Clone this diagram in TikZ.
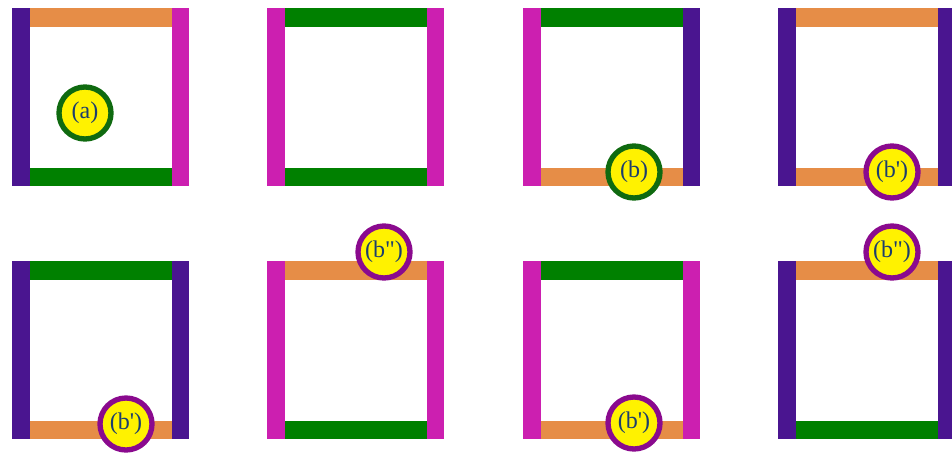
\documentclass[tikz,border=0pt]{standalone}
\usepackage{fontspec}
\setmainfont{Liberation Serif}

\definecolor{barpurple}{HTML}{4A1590}
\definecolor{barmagenta}{HTML}{CC1FB0}
\definecolor{barorange}{HTML}{E68D47}
\definecolor{bargreen}{HTML}{008000}
\definecolor{ringgreen}{HTML}{0F6A10}
\definecolor{ringpurple}{HTML}{8A0A8E}
\definecolor{tagblue}{HTML}{1B3D6E}

\tikzset{
  tag/.style={circle, fill=yellow, draw=#1, line width=4pt, minimum size=39pt,
              inner sep=0pt, text=tagblue, font=\fontsize{18}{18}\selectfont},
}

\begin{document}
\begin{tikzpicture}[x=0.75pt, y=-0.75pt]
    \useasboundingbox (0,0) rectangle (952,453);
    \clip (0,0) rectangle (952,453);

    % Frames: left x, top y, then colours of left, top, right, bottom bars
    \foreach \x/\y/\l/\t/\r/\b in {
        12/8/barpurple/barorange/barmagenta/bargreen,
        267/8/barmagenta/bargreen/barmagenta/bargreen,
        523/8/barmagenta/bargreen/barpurple/barorange,
        778/8/barpurple/barorange/barpurple/barorange,
        12/261/barpurple/bargreen/barpurple/barorange,
        267/261/barmagenta/barorange/barmagenta/bargreen,
        523/261/barmagenta/bargreen/barmagenta/barorange,
        778/261/barpurple/barorange/barpurple/bargreen} {
        \fill[\t] (\x+17.5,\y) rectangle ++(142,19);
        \fill[\b] (\x+17.5,\y+159.5) rectangle ++(142,18.5);
        \fill[\l] (\x,\y) rectangle ++(17.5,178);
        \fill[\r] (\x+159.5,\y) rectangle ++(17.5,178);
    }

    % Labels
    \node[tag=ringgreen] (tagA) at (85,113) {(a)};
    \node[tag=ringgreen] (tagB) at (634,172) {(b)};
    \node[tag=ringpurple] (tagBpA) at (892,172) {(b\textquotesingle)};
    \node[tag=ringpurple] (tagBpB) at (126,424) {(b\textquotesingle)};
    \node[tag=ringpurple] (tagBppA) at (384,252) {(b\textquotedbl)};
    \node[tag=ringpurple] (tagBpC) at (634,423) {(b\textquotesingle)};
    \node[tag=ringpurple] (tagBppB) at (892,252) {(b\textquotedbl)};
\end{tikzpicture}
\end{document}
